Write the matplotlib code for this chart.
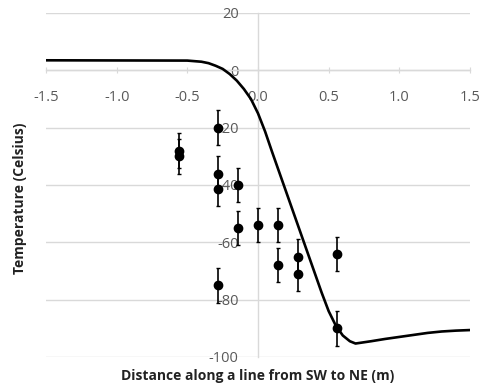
import matplotlib
matplotlib.use("Agg")
import matplotlib.pyplot as plt

# Model curve
curve_x = [-1.5, -0.5, -0.4, -0.35, -0.3, -0.25, -0.2, -0.15, -0.1, -0.05, 0.0, 0.05,
           0.1, 0.2, 0.3, 0.4, 0.45, 0.5, 0.55, 0.6, 0.65, 0.69, 0.8, 0.9, 1.0, 1.1,
           1.2, 1.3, 1.4, 1.5]
curve_y = [3.5, 3.4, 3.0, 2.5, 1.6, 0.5, -1.3, -3.6, -6.5, -10.0, -15.0, -21.3,
           -28.5, -42.5, -56.5, -70.5, -77.5, -84.0, -89.0, -92.5, -94.5, -95.3, -94.5,
           -93.7, -93.0, -92.3, -91.6, -91.1, -90.8, -90.6]

# Measured points
pts_x = [-0.56, -0.56, -0.28, -0.28, -0.28, -0.28, -0.14, -0.14, 0.0, 0.14, 0.14,
         0.28, 0.28, 0.56, 0.56]
pts_y = [-28, -30, -20, -36, -41.5, -75, -40, -55, -54, -54, -68, -65, -71, -64, -90]
pts_err = [6] * len(pts_x)

x_ticks = [-1.5, -1.0, -0.5, 0.0, 0.5, 1.0, 1.5]
x_tick_labels = ["-1.5", "-1.0", "-0.5", "0.0", "0.5", "1.0", "1.5"]
y_ticks = [20, 0, -20, -40, -60, -80, -100]
y_tick_labels = ["20", "0", "-20", "-40", "-60", "-80", "-100"]

plt.rcParams['font.family'] = ['Open Sans', 'DejaVu Sans']

fig = plt.figure(figsize=(4.81, 3.85), dpi=100)
ax = fig.add_axes([46/481, 1-357/385, 424/481, 344/385])

ax.set_xlim(-1.5, 1.5)
ax.set_ylim(-100, 20)

grid_c = "#d9d9d9"
for s in ["top", "right"]:
    ax.spines[s].set_visible(False)
ax.spines["bottom"].set_position(("data", 0))
ax.spines["left"].set_position(("data", 0))
ax.spines["bottom"].set_color(grid_c)
ax.spines["left"].set_color(grid_c)
ax.spines["bottom"].set_linewidth(1.0)
ax.spines["left"].set_linewidth(1.0)

ax.set_xticks(x_ticks)
ax.set_xticklabels(x_tick_labels)
ax.set_yticks(y_ticks)
ax.set_yticklabels(y_tick_labels)
ax.tick_params(axis="x", colors="#595959", labelsize=10.5, length=4, direction="inout",
               pad=12, color=grid_c)
ax.tick_params(axis="y", colors="#595959", labelsize=10.5, length=0, pad=14)
ax.yaxis.grid(True, color=grid_c, linewidth=1.0)
ax.set_axisbelow(True)

ax.plot(curve_x, curve_y, color="black", linewidth=1.9, zorder=3)
ax.errorbar(pts_x, pts_y, yerr=pts_err, fmt="o", color="black", markersize=6,
            elinewidth=1.2, capsize=1.5, capthick=1.0, zorder=4)

fig.text(258/481, 1-376/385, "Distance along a line from SW to NE (m)", ha="center",
         va="center", fontsize=10, fontweight="bold", color="#222222")
fig.text(20/481, 1-198/385, "Temperature (Celsius)", ha="center", va="center",
         rotation=90, fontsize=10, fontweight="bold", color="#222222")

fig.savefig("out.png", dpi=100)
